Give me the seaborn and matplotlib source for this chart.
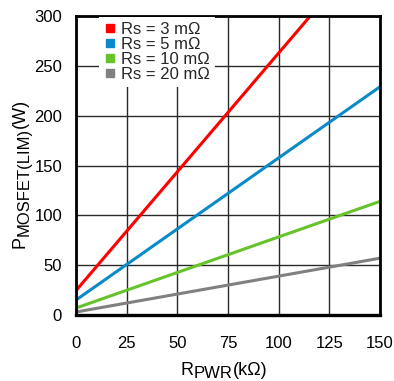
import matplotlib
matplotlib.use("Agg")
import matplotlib.pyplot as plt
import matplotlib.transforms as mtransforms
import seaborn as sns
import pandas as pd
from matplotlib.lines import Line2D

sns.set_theme(style="white")
plt.rcParams['font.family'] = ['Liberation Sans', 'DejaVu Sans']

rpwr = [0, 150]
series_labels = ["Rs = 3 mΩ", "Rs = 5 mΩ", "Rs = 10 mΩ", "Rs = 20 mΩ"]
p_rs3 = [24.5, 382]
p_rs5 = [15, 229]
p_rs10 = [7, 114]
p_rs20 = [3, 57]
colors = ["#ff0000", "#0a8ac8", "#66c32a", "#808080"]
xticks = [0, 25, 50, 75, 100, 125, 150]
yticks = [0, 50, 100, 150, 200, 250, 300]

rows = []
for lab, vals in zip(series_labels, [p_rs3, p_rs5, p_rs10, p_rs20]):
    for x, y in zip(rpwr, vals):
        rows.append({"x": x, "y": y, "series": lab})
df = pd.DataFrame(rows)

W, H = 394, 381
fig = plt.figure(figsize=(W / 100, H / 100), dpi=100)
ax = fig.add_axes([76 / W, 1 - 315 / H, 304 / W, 299 / H])

sns.lineplot(data=df, x="x", y="y", hue="series", palette=colors,
             hue_order=series_labels, linewidth=2.2, ax=ax, legend=False)

ax.set_xlim(0, 150)
ax.set_ylim(0, 300)
ax.set_xticks(xticks)
ax.set_yticks(yticks)
ax.grid(True, color="#2a2a2a", linewidth=1.0)
ax.set_axisbelow(True)
for s in ax.spines.values():
    s.set_visible(True)
    s.set_color("black")
    s.set_linewidth(2)
ax.spines["bottom"].set_linewidth(2.4)
ax.tick_params(axis="both", length=0, labelsize=12, colors="black")
ax.tick_params(axis="x", pad=15)
ax.tick_params(axis="y", pad=10)
ax.set_xlabel("")
ax.set_ylabel("")

# compound labels with large lowered subscripts
renderer = fig.canvas.get_renderer()
ident = mtransforms.IdentityTransform()


def compound(pieces, x0, y0, rotation=0):
    texts = []
    widths = []
    for t, fs, drop in pieces:
        tx = fig.text(0, 0, t, fontsize=fs, color="black", transform=ident,
                      va="baseline", ha="left", rotation=0)
        widths.append(tx.get_window_extent(renderer).width)
        texts.append(tx)
    total = sum(widths)
    pos = -total / 2
    for tx, w, (t, fs, drop) in zip(texts, widths, pieces):
        if rotation == 0:
            tx.set_position((x0 + pos, y0 - drop))
        else:
            tx.set_rotation(90)
            tx.set_rotation_mode("anchor")
            tx.set_position((x0 + drop, y0 + pos))
        pos += w


compound([("R", 13, 0), ("PWR", 12, 3.5), ("(kΩ)", 13, 0)], 224, H - 375)
compound([("P", 13, 0), ("MOSFET(LIM)", 12, 3.5), ("(W)", 13, 0)], 25, H - 173, rotation=90)

handles = [Line2D([], [], marker="s", linestyle="none", markersize=6,
                  markerfacecolor=c, markeredgecolor=c) for c in colors]
leg = ax.legend(handles, series_labels, loc="upper left",
                bbox_to_anchor=((99 - 76) / 304, 1 - 1 / 299),
                frameon=True, fontsize=12, handletextpad=0.3, labelspacing=0.0,
                borderpad=0.3, handlelength=0.7, borderaxespad=0)
leg.get_frame().set_facecolor("white")
leg.get_frame().set_edgecolor("white")
leg.get_frame().set_alpha(1)
leg.get_frame().set_linewidth(0)
leg.get_frame().set_boxstyle("square", pad=0)

fig.savefig("out.png", dpi=100)
